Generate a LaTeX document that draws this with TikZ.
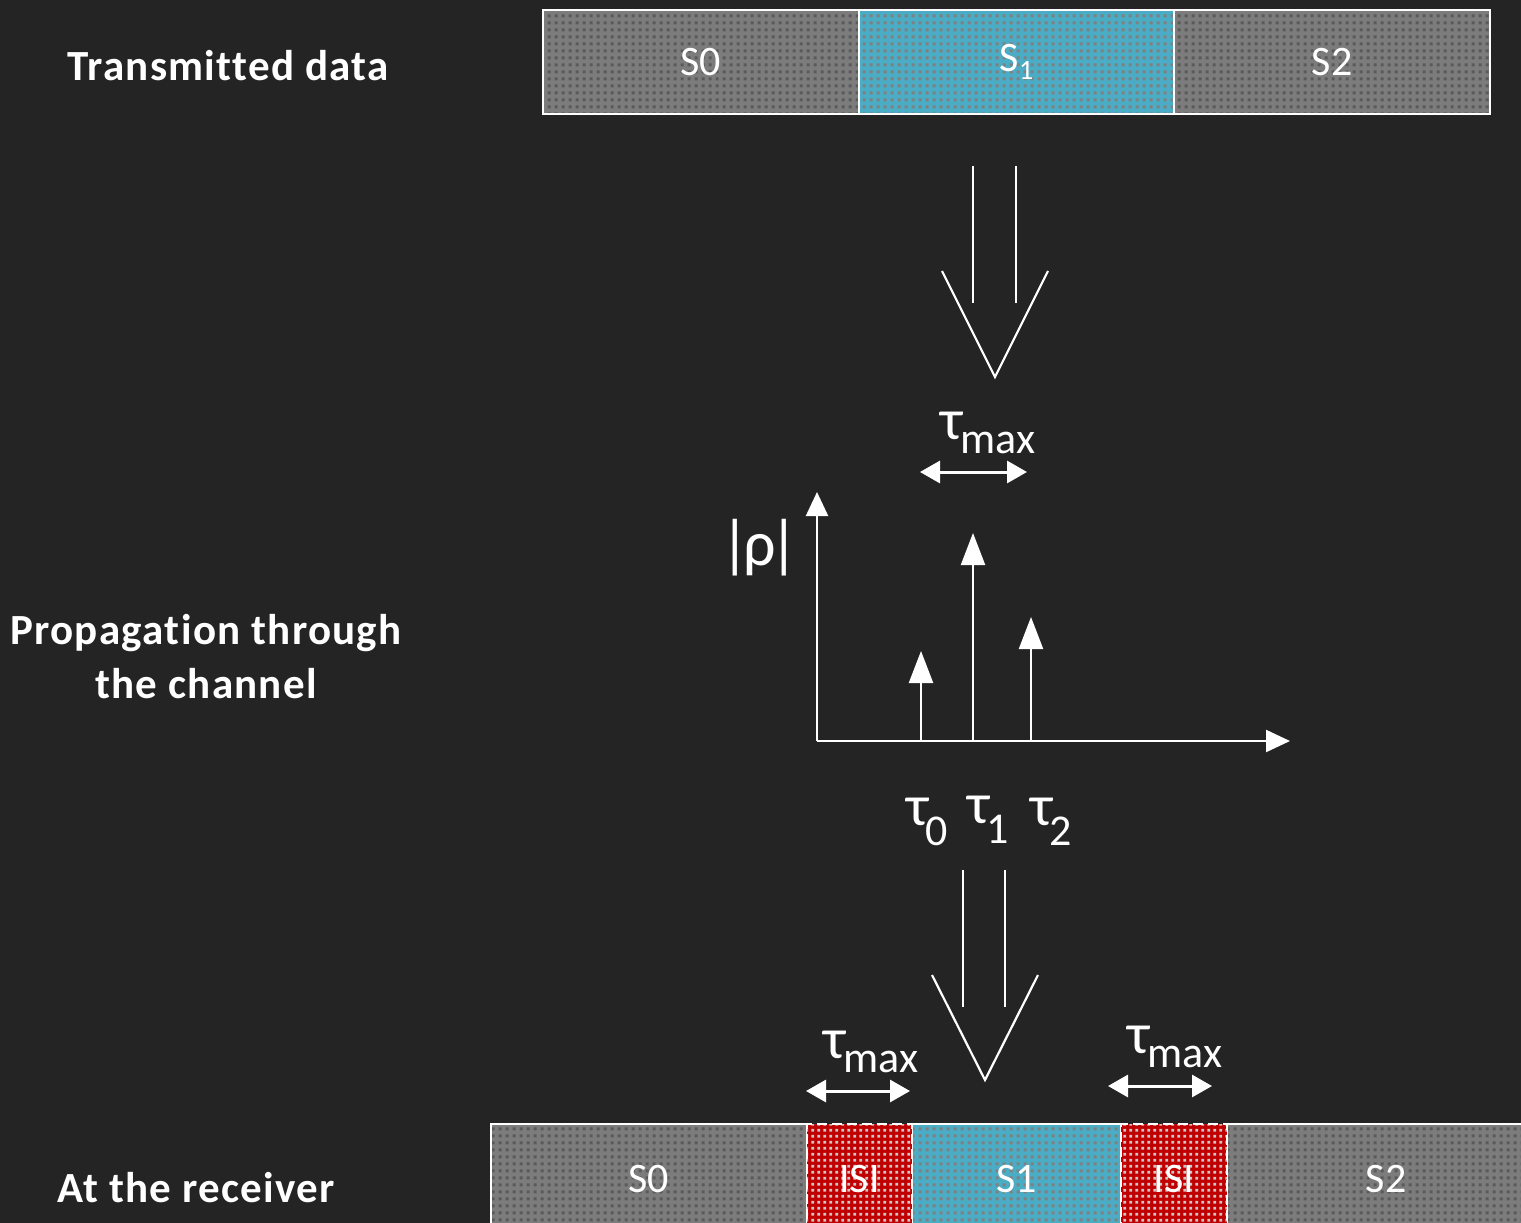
\documentclass[tikz,border=0pt]{standalone}
\usepackage{fontspec}
\setmainfont{Carlito}[Ligatures=NoCommon]
\newfontfamily\lblfamily{Carlito}[Ligatures=NoCommon,LetterSpace=3]
\usetikzlibrary{arrows.meta,patterns}
\definecolor{bg}{RGB}{36,36,36}
\definecolor{segGray}{RGB}{124,124,124}
\definecolor{segGrayDot}{RGB}{90,90,90}
\definecolor{segCyan}{RGB}{75,172,198}
\definecolor{segCyanDot}{RGB}{128,128,128}
\definecolor{segRed}{RGB}{192,0,0}
\definecolor{segRedDot}{RGB}{200,200,200}
\pgfdeclarepatternformonly{sqdots}{\pgfqpoint{0pt}{0pt}}{\pgfqpoint{7pt}{7pt}}{\pgfqpoint{7pt}{7pt}}{\pgfpathrectangle{\pgfqpoint{1.75pt}{1.75pt}}{\pgfqpoint{3.5pt}{3.5pt}}\pgfusepath{fill}}
\pgfdeclarepatternformonly{sqdotsdense}{\pgfqpoint{0pt}{0pt}}{\pgfqpoint{6pt}{6pt}}{\pgfqpoint{6pt}{6pt}}{\pgfpathrectangle{\pgfqpoint{1.5pt}{1.5pt}}{\pgfqpoint{3.2pt}{3.2pt}}\pgfusepath{fill}}
\newcommand\segfont{\fontsize{42}{50}\selectfont}
\newcommand\lblfont{\lblfamily\fontsize{43}{54}\selectfont\bfseries}
\newcommand\taumax{{\fontsize{58}{60}\selectfont τ}\kern-3pt\raisebox{-14pt}{\fontsize{44}{48}\selectfont max}}
\newcommand\tausub[1]{{\fontsize{58}{60}\selectfont τ}\kern-3pt\raisebox{-20pt}{\fontsize{44}{48}\selectfont #1}}
\tikzset{
  seg/.style={draw=white, line width=2pt, text=white, font=\segfont, inner sep=0pt, anchor=north west, minimum height=104pt},
  gseg/.style={seg, preaction={fill=segGray}, pattern=sqdots, pattern color=segGrayDot},
  cseg/.style={seg, preaction={fill=segCyan}, pattern=sqdots, pattern color=segCyanDot},
  rseg/.style={seg, draw=white, dash pattern=on 10pt off 5pt, preaction={fill=segRed}, pattern=sqdotsdense, pattern color=segRedDot},
  lbl/.style={text=white, font=\lblfont, align=center, inner sep=0pt},
  tlbl/.style={text=white, inner sep=0pt},
  hollow/.style={draw=white, line width=2.2pt},
  dbl/.style={draw=white, line width=3pt, {Triangle[length=20pt,width=22pt]}-{Triangle[length=20pt,width=22pt]}},
  axis/.style={draw=white, line width=2.2pt, -{Triangle[length=24pt,width=22pt]}},
  stem/.style={draw=white, line width=2.2pt, -{Triangle[length=32pt,width=24pt]}}
}
\begin{document}
\begin{tikzpicture}[x=1pt,y=-1pt]
\useasboundingbox (0,0) rectangle (1521,1223);
\clip (0,0) rectangle (1521,1223);
\fill[bg] (0,0) rectangle (1521,1223);

% left labels
\node[lbl] (ltx) at (228,66) {Transmitted data};
\node[lbl] (lch) at (206,657) {Propagation through\\the channel};
\node[lbl] (lrx) at (196,1188) {At the receiver};

% transmitted bar
\node[gseg, minimum width=316pt] (ts0) at (542,9) {S0};
\node[cseg, minimum width=315pt] (ts1) at (858,9) {S\raisebox{-8pt}{\fontsize{28}{30}\selectfont 1}};
\node[gseg, minimum width=316pt] (ts2) at (1173,9) {S2};

% first hollow arrow
\draw[hollow] (973,166) -- (973,303);
\draw[hollow] (1016,166) -- (1016,303);
\draw[hollow] (942,271) -- (995,377) -- (1048,271);

% top tau max
\node[tlbl] (tm1) at (988,433) {\taumax};
\coordinate (d1a) at (920,472);
\coordinate (d1b) at (1027,472);
\draw[dbl] (d1a) -- (d1b);

% channel plot
\coordinate (org) at (817,741);
\coordinate (yax) at (817,492);
\coordinate (xax) at (1290,741);
\draw[axis] (org) -- (yax);
\draw[axis] (org) -- (xax);
\node[tlbl, font=\fontsize{64}{66}\selectfont] (rho) at (760,548) {|\kern-7ptρ\kern-6pt|};
\coordinate (b0) at (921,741); \coordinate (p0) at (921,651);
\coordinate (b1) at (973,741); \coordinate (p1) at (973,533);
\coordinate (b2) at (1031,741); \coordinate (p2) at (1031,617);
\draw[stem] (b0) -- (p0);
\draw[stem] (b1) -- (p1);
\draw[stem] (b2) -- (p2);
\node[tlbl] (tau0) at (927,822) {\tausub{0}};
\node[tlbl] (tau1) at (988,820) {\tausub{1}};
\node[tlbl] (tau2) at (1051,822) {\tausub{2}};

% second hollow arrow
\draw[hollow] (963,870) -- (963,1007);
\draw[hollow] (1005,870) -- (1005,1007);
\draw[hollow] (932,975) -- (985,1080) -- (1038,975);

% bottom tau max
\node[tlbl] (tm2) at (871,1052) {\taumax};
\coordinate (d2a) at (806,1091);
\coordinate (d2b) at (910,1091);
\draw[dbl] (d2a) -- (d2b);
\node[tlbl] (tm3) at (1175,1047) {\taumax};
\coordinate (d3a) at (1108,1086);
\coordinate (d3b) at (1212,1086);
\draw[dbl] (d3a) -- (d3b);

% receiver bar
\node[gseg, minimum width=316pt, minimum height=110pt] (rs0) at (490,1123) {S0};
\node[cseg, minimum width=209pt, minimum height=110pt] (rs1) at (911,1123) {S1};
\node[gseg, minimum width=318pt, minimum height=110pt] (rs2) at (1226,1123) {S2};
\node[rseg, minimum width=105pt, minimum height=110pt] (ri1) at (806,1123) {ISI};
\node[rseg, minimum width=106pt, minimum height=110pt] (ri2) at (1120,1123) {ISI};
\end{tikzpicture}
\end{document}
